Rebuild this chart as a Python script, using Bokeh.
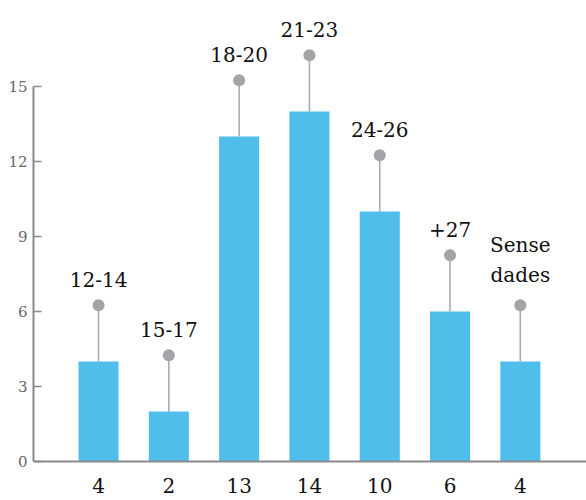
from bokeh.plotting import figure
from bokeh.models import ColumnDataSource, Range1d, FixedTicker
from bokeh.core.properties import value
from bokeh.embed import file_html
from bokeh.resources import INLINE

# Data
age_groups = ["12-14", "15-17", "18-20", "21-23", "24-26", "+27", "Sense\ndades"]
counts = [4, 2, 13, 14, 10, 6, 4]
y_ticks = [0, 3, 6, 9, 12, 15]

STEM = 2.25  # stem length above bar, in data units (style)
FONT = "DejaVu Serif"

idx = list(range(len(counts)))
source = ColumnDataSource(dict(
    x=idx,
    top=counts,
    dot=[c + STEM for c in counts],
    label=age_groups,
))

p = figure(width=586, height=500, output_backend="svg", toolbar_location=None,
           x_range=Range1d(-0.925, 6.941), y_range=Range1d(0, 18.44),
           min_border_left=33, min_border_right=0, min_border_top=0, min_border_bottom=39)

p.vbar(x="x", top="top", bottom=0, width=0.57, source=source,
       fill_color="#50BEEA", line_color=None)
p.segment(x0="x", y0="top", x1="x", y1="dot", source=source,
          line_color="#ababb0", line_width=1.6)
p.scatter(x="x", y="dot", source=source, size=12,
          fill_color="#a3a3a8", line_color=None)
p.text(x="x", y="dot", text="label", source=source,
       text_font=value(FONT), text_font_size="20px", text_color="#111111",
       text_align="center", text_baseline="bottom", y_offset=-18,
       text_line_height=1.25)

p.grid.visible = False
p.outline_line_color = None

ya = p.yaxis[0]
ya.ticker = FixedTicker(ticks=y_ticks)
ya.bounds = (0, 15)
ya.minor_tick_line_color = None
ya.major_tick_in = 8
ya.major_tick_out = 0
ya.major_tick_line_color = "#8a8a8a"
ya.major_tick_line_width = 1.5
ya.axis_line_color = "#8a8a8a"
ya.axis_line_width = 2
ya.major_label_text_font = FONT
ya.major_label_text_font_size = "15px"
ya.major_label_text_color = "#666666"
ya.major_label_standoff = 6

xa = p.xaxis[0]
xa.ticker = FixedTicker(ticks=idx)
xa.major_label_overrides = {i: str(c) for i, c in zip(idx, counts)}
xa.minor_tick_line_color = None
xa.major_tick_line_color = None
xa.major_tick_in = 0
xa.major_tick_out = 0
xa.axis_line_color = "#8a8a8a"
xa.axis_line_width = 2
xa.major_label_text_font = FONT
xa.major_label_text_font_size = "20px"
xa.major_label_text_color = "#111111"
xa.major_label_standoff = 16

open("out.html", "w").write(file_html(p, INLINE))
